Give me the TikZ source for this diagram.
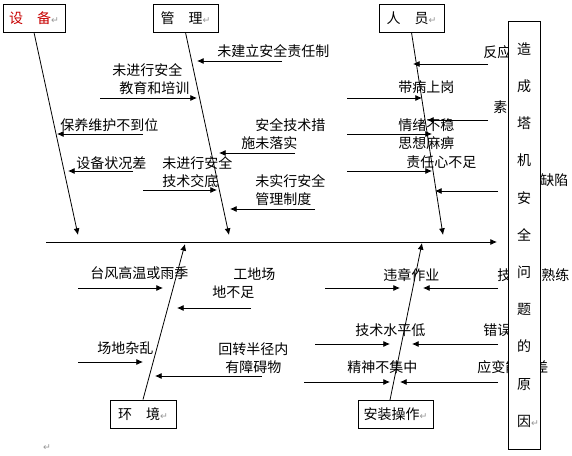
\documentclass[tikz,border=0pt]{standalone}
\usepackage{fontspec}
\usetikzlibrary{arrows.meta}
\newfontfamily\cjk{Noto Sans CJK SC}
\newfontfamily\symf{DejaVu Sans}
\definecolor{lineclr}{RGB}{0,0,0}
\definecolor{catred}{RGB}{200,0,0}
\definecolor{markclr}{RGB}{150,150,150}
\newcommand{\pmk}{{\symf\fontsize{7pt}{7pt}\selectfont\color{markclr}↵}}
\tikzset{
  cat/.style={rectangle,draw=lineclr,fill=white,line width=0.7pt,
    minimum width=48.75pt,minimum height=21pt,inner sep=0pt,
    font=\cjk\fontsize{10.5pt}{13.5pt}\selectfont},
  vbox/.style={cat,minimum width=24pt,minimum height=321pt,align=center,
    font=\cjk\fontsize{10.5pt}{27.9pt}\selectfont},
  lbl/.style={anchor=west,inner sep=0pt,align=left,
    font=\cjk\fontsize{10.5pt}{13.5pt}\selectfont},
  arr/.style={-{Latex[length=5pt,width=4.5pt]},line width=0.6pt,color=lineclr},
  bone/.style={arr},
}

\begin{document}
\begin{tikzpicture}[x=0.75pt,y=-0.75pt]
  \useasboundingbox (0,0) rectangle (572,456);

  % categories
  \node[cat,minimum width=46.5pt,text=catred] (eq) at (34,18) {设　备\pmk};
  \node[cat] (mg) at (185.5,18) {管　理\pmk};
  \node[cat] (pp) at (411.5,18) {人　员\pmk};
  \node[cat,minimum width=49.5pt] (en) at (143,414) {环　境\pmk};
  \node[cat,minimum width=56.25pt] (op) at (395.5,414) {安装操作\pmk};

  % spine and bones
  \coordinate (sp0) at (46,242);
  \coordinate (sp1) at (497,242);
  \coordinate (eqtip) at (78,235);
  \coordinate (mgtip) at (229,235);
  \coordinate (pptip) at (443,235);
  \coordinate (entip) at (185,244);
  \coordinate (optip) at (422,243);
  \coordinate (opbot) at (390,400);
  \draw[bone] (sp0) -- (sp1);
  \draw[bone] (eq.south) -- (eqtip);
  \draw[bone] (mg.south) -- (mgtip);
  \draw[bone] (pp.south) -- (pptip);
  \draw[bone] (en.north) -- (entip);
  \draw[bone] (opbot) -- (optip);

  % equipment
  \node[lbl] (eq1) at (60,125) {保养维护不到位};
  \node[lbl] (eq2) at (76,163) {设备状况差};
  \coordinate (eq1s) at (143,134); \coordinate (eq1t) at (57,134);
  \coordinate (eq2s) at (133,171); \coordinate (eq2t) at (68,171);
  \draw[arr] (eq1s) -- (eq1t);
  \draw[arr] (eq2s) -- (eq2t);

  % management
  \node[lbl] (mg1) at (217,51) {未建立安全责任制};
  \node[lbl] (mg2) at (112,79) {未进行安全\\\hspace*{0.5em}教育和培训};
  \node[lbl] (mg3) at (241,134.5) {\hspace*{1em}安全技术措\\施未落实};
  \node[lbl] (mg4) at (162,172) {未进行安全\\技术交底};
  \node[lbl] (mg5) at (255,190) {未实行安全\\管理制度};
  \coordinate (mg1s) at (282,61);  \coordinate (mg1t) at (197,61);
  \coordinate (mg2s) at (100,98);  \coordinate (mg2t) at (197,98);
  \coordinate (mg3s) at (295,153); \coordinate (mg3t) at (219,153);
  \coordinate (mg4s) at (143,190); \coordinate (mg4t) at (217,190);
  \coordinate (mg5s) at (315,209); \coordinate (mg5t) at (230,209);
  \draw[arr] (mg1s) -- (mg1t);
  \draw[arr] (mg2s) -- (mg2t);
  \draw[arr] (mg3s) -- (mg3t);
  \draw[arr] (mg4s) -- (mg4t);
  \draw[arr] (mg5s) -- (mg5t);

  % people
  \node[lbl] (pp1) at (483,52) {反应};
  \node[lbl] (pp2) at (398,87) {带病上岗};
  \node[lbl] (pp3) at (493,107) {素};
  \node[lbl] (pp4) at (398,134) {情绪不稳\\思想麻痹};
  \node[lbl] (pp5) at (406,162) {责任心不足};
  \node[lbl] (pp6) at (540,180) {缺陷};
  \coordinate (pp1s) at (488,64);  \coordinate (pp1t) at (413,64);
  \coordinate (pp2s) at (347,98);  \coordinate (pp2t) at (422,98);
  \coordinate (pp3s) at (488,120); \coordinate (pp3t) at (427,120);
  \coordinate (pp4s) at (347,134); \coordinate (pp4t) at (432,134);
  \coordinate (pp5s) at (347,171); \coordinate (pp5t) at (432,171);
  \coordinate (pp6s) at (498,191); \coordinate (pp6t) at (435,191);
  \draw[arr] (pp1s) -- (pp1t);
  \draw[arr] (pp2s) -- (pp2t);
  \draw[arr] (pp3s) -- (pp3t);
  \draw[arr] (pp4s) -- (pp4t);
  \draw[arr] (pp5s) -- (pp5t);
  \draw[arr] (pp6s) -- (pp6t);

  % environment
  \node[lbl] (en1) at (90,273) {台风高温或雨季};
  \node[lbl] (en2) at (212,283.5) {\hspace*{1.5em}工地场\\地不足};
  \node[lbl] (en3) at (97,348) {场地杂乱};
  \node[lbl] (en4) at (218,358) {回转半径内\\\hspace*{0.5em}有障碍物};
  \coordinate (en1s) at (78,288);  \coordinate (en1t) at (163,288);
  \coordinate (en2s) at (251,308); \coordinate (en2t) at (177,308);
  \coordinate (en3s) at (78,362);  \coordinate (en3t) at (143,362);
  \coordinate (en4s) at (262,376); \coordinate (en4t) at (155,376);
  \draw[arr] (en1s) -- (en1t);
  \draw[arr] (en2s) -- (en2t);
  \draw[arr] (en3s) -- (en3t);
  \draw[arr] (en4s) -- (en4t);

  % installation
  \node[lbl] (op1) at (383,275) {违章作业};
  \node[lbl] (op2) at (497,275) {技};
  \node[lbl] (op2r) at (541,275) {熟练};
  \node[lbl] (op3) at (355,330) {技术水平低};
  \node[lbl] (op4) at (483,330) {错误};
  \node[lbl] (op5) at (347,367) {精神不集中};
  \node[lbl] (op6) at (477,367) {应变能};
  \node[lbl] (op6r) at (534,367) {差};
  \coordinate (op1s) at (325,288); \coordinate (op1t) at (400,288);
  \coordinate (op2s) at (498,288); \coordinate (op2t) at (423,288);
  \coordinate (op3s) at (315,344); \coordinate (op3t) at (390,344);
  \coordinate (op4s) at (498,344); \coordinate (op4t) at (412,344);
  \coordinate (op5s) at (304,382); \coordinate (op5t) at (390,382);
  \coordinate (op6s) at (498,382); \coordinate (op6t) at (400,382);
  \draw[arr] (op1s) -- (op1t);
  \draw[arr] (op2s) -- (op2t);
  \draw[arr] (op3s) -- (op3t);
  \draw[arr] (op4s) -- (op4t);
  \draw[arr] (op5s) -- (op5t);
  \draw[arr] (op6s) -- (op6t);

  % result box on top
  \node[vbox] (res) at (524,235) {造\\成\\塔\\机\\安\\全\\问\\题\\的\\原\\因\rlap{\pmk}};
  \node[inner sep=0pt] (pend) at (47,448) {\pmk};
\end{tikzpicture}
\end{document}
